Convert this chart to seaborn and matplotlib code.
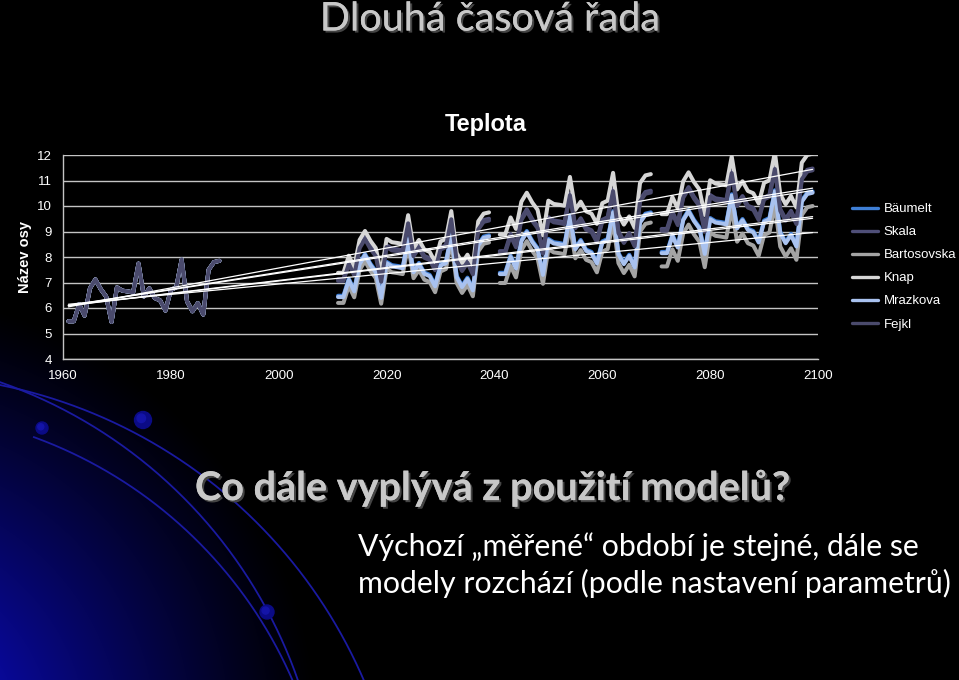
import numpy as np
import pandas as pd
import matplotlib
matplotlib.use("Agg")
import matplotlib.pyplot as plt
import seaborn as sns
from matplotlib import patheffects as pe

# ---------------- data ----------------
models = ["Bäumelt", "Skala", "Bartosovska", "Knap", "Mrazkova", "Fejkl"]
colors = ["#3f7fd6", "#4f4f78", "#a4a4a4", "#d6d6d6", "#a9c2ef", "#4a4a6c"]
period_starts = [1961, 2011, 2041, 2071]

observed = [5.48, 5.48, 6.15, 5.70, 6.77, 7.12, 6.74, 6.45, 5.45, 6.81, 6.68, 6.65, 6.61, 7.74, 6.45,
            6.77, 6.39, 6.30, 5.90, 6.71, 6.81, 7.90, 6.26, 5.87, 6.19, 5.74, 7.50, 7.80, 7.85]

baumelt_2011 = [6.48, 6.48, 7.15, 6.70, 7.77, 8.12, 7.74, 7.45, 6.45, 7.81, 7.68, 7.65, 7.61, 8.74, 7.45,
                7.77, 7.39, 7.30, 6.90, 7.71, 7.81, 8.90, 7.26, 6.87, 7.19, 6.74, 8.50, 8.80, 8.85]
baumelt_2041 = [7.38, 7.38, 8.05, 7.60, 8.67, 9.02, 8.64, 8.35, 7.35, 8.71, 8.58, 8.55, 8.51, 9.64, 8.35,
                8.67, 8.29, 8.20, 7.80, 8.61, 8.71, 9.80, 8.16, 7.77, 8.09, 7.64, 9.40, 9.70, 9.75]
baumelt_2071 = [8.20, 8.20, 8.87, 8.42, 9.49, 9.84, 9.46, 9.17, 8.17, 9.53, 9.40, 9.37, 9.33, 10.46, 9.17,
                9.49, 9.11, 9.02, 8.62, 9.43, 9.53, 10.62, 8.98, 8.59, 8.91, 8.46, 10.22, 10.52, 10.57]

skala_2011 = [7.13, 7.13, 7.80, 7.35, 8.42, 8.77, 8.39, 8.10, 7.10, 8.46, 8.33, 8.30, 8.26, 9.39, 8.10,
              8.42, 8.04, 7.95, 7.55, 8.36, 8.46, 9.55, 7.91, 7.52, 7.84, 7.39, 9.15, 9.45, 9.50]
skala_2041 = [8.23, 8.23, 8.90, 8.45, 9.52, 9.87, 9.49, 9.20, 8.20, 9.56, 9.43, 9.40, 9.36, 10.49, 9.20,
              9.52, 9.14, 9.05, 8.65, 9.46, 9.56, 10.65, 9.01, 8.62, 8.94, 8.49, 10.25, 10.55, 10.60]
skala_2071 = [9.10, 9.10, 9.77, 9.32, 10.39, 10.74, 10.36, 10.07, 9.07, 10.43, 10.30, 10.27, 10.23, 11.36, 10.07,
              10.39, 10.01, 9.92, 9.52, 10.33, 10.43, 11.52, 9.88, 9.49, 9.81, 9.36, 11.12, 11.42, 11.47]

bartosovska_2011 = [6.20, 6.20, 6.87, 6.42, 7.49, 7.84, 7.46, 7.17, 6.17, 7.53, 7.40, 7.37, 7.33, 8.46, 7.17,
                    7.49, 7.11, 7.02, 6.62, 7.43, 7.53, 8.62, 6.98, 6.59, 6.91, 6.46, 8.22, 8.52, 8.57]
bartosovska_2041 = [6.98, 6.98, 7.65, 7.20, 8.27, 8.62, 8.24, 7.95, 6.95, 8.31, 8.18, 8.15, 8.11, 9.24, 7.95,
                    8.27, 7.89, 7.80, 7.40, 8.21, 8.31, 9.40, 7.76, 7.37, 7.69, 7.24, 9.00, 9.30, 9.35]
bartosovska_2071 = [7.63, 7.63, 8.30, 7.85, 8.92, 9.27, 8.89, 8.60, 7.60, 8.96, 8.83, 8.80, 8.76, 9.89, 8.60,
                    8.92, 8.54, 8.45, 8.05, 8.86, 8.96, 10.05, 8.41, 8.02, 8.34, 7.89, 9.65, 9.95, 10.00]

knap_2011 = [7.38, 7.38, 8.05, 7.60, 8.67, 9.02, 8.64, 8.35, 7.35, 8.71, 8.58, 8.55, 8.51, 9.64, 8.35,
             8.67, 8.29, 8.20, 7.80, 8.61, 8.71, 9.80, 8.16, 7.77, 8.09, 7.64, 9.40, 9.70, 9.75]
knap_2041 = [8.88, 8.88, 9.55, 9.10, 10.17, 10.52, 10.14, 9.85, 8.85, 10.21, 10.08, 10.05, 10.01, 11.14, 9.85,
             10.17, 9.79, 9.70, 9.30, 10.11, 10.21, 11.30, 9.66, 9.27, 9.59, 9.14, 10.90, 11.20, 11.25]
knap_2071 = [9.68, 9.68, 10.35, 9.90, 10.97, 11.32, 10.94, 10.65, 9.65, 11.01, 10.88, 10.85, 10.81, 11.94, 10.65,
             10.97, 10.59, 10.50, 10.10, 10.91, 11.01, 12.10, 10.46, 10.07, 10.39, 9.94, 11.70, 12.00, 12.05]

mrazkova_2011 = [6.43, 6.43, 7.10, 6.65, 7.72, 8.07, 7.69, 7.40, 6.40, 7.76, 7.63, 7.60, 7.56, 8.69, 7.40,
                 7.72, 7.34, 7.25, 6.85, 7.66, 7.76, 8.85, 7.21, 6.82, 7.14, 6.69, 8.45, 8.75, 8.80]
mrazkova_2041 = [7.33, 7.33, 8.00, 7.55, 8.62, 8.97, 8.59, 8.30, 7.30, 8.66, 8.53, 8.50, 8.46, 9.59, 8.30,
                 8.62, 8.24, 8.15, 7.75, 8.56, 8.66, 9.75, 8.11, 7.72, 8.04, 7.59, 9.35, 9.65, 9.70]
mrazkova_2071 = [8.15, 8.15, 8.82, 8.37, 9.44, 9.79, 9.41, 9.12, 8.12, 9.48, 9.35, 9.32, 9.28, 10.41, 9.12,
                 9.44, 9.06, 8.97, 8.57, 9.38, 9.48, 10.57, 8.93, 8.54, 8.86, 8.41, 10.17, 10.47, 10.52]

fejkl_2011 = [7.06, 7.06, 7.73, 7.28, 8.35, 8.70, 8.32, 8.03, 7.03, 8.39, 8.26, 8.23, 8.19, 9.32, 8.03,
              8.35, 7.97, 7.88, 7.48, 8.29, 8.39, 9.48, 7.84, 7.45, 7.77, 7.32, 9.08, 9.38, 9.43]
fejkl_2041 = [8.16, 8.16, 8.83, 8.38, 9.45, 9.80, 9.42, 9.13, 8.13, 9.49, 9.36, 9.33, 9.29, 10.42, 9.13,
              9.45, 9.07, 8.98, 8.58, 9.39, 9.49, 10.58, 8.94, 8.55, 8.87, 8.42, 10.18, 10.48, 10.53]
fejkl_2071 = [9.03, 9.03, 9.70, 9.25, 10.32, 10.67, 10.29, 10.00, 9.00, 10.36, 10.23, 10.20, 10.16, 11.29, 10.00,
              10.32, 9.94, 9.85, 9.45, 10.26, 10.36, 11.45, 9.81, 9.42, 9.74, 9.29, 11.05, 11.35, 11.40]

series = {
    "Bäumelt": [observed, baumelt_2011, baumelt_2041, baumelt_2071],
    "Skala": [observed, skala_2011, skala_2041, skala_2071],
    "Bartosovska": [observed, bartosovska_2011, bartosovska_2041, bartosovska_2071],
    "Knap": [observed, knap_2011, knap_2041, knap_2071],
    "Mrazkova": [observed, mrazkova_2011, mrazkova_2041, mrazkova_2071],
    "Fejkl": [observed, fejkl_2011, fejkl_2041, fejkl_2071],
}

rows = []
for m in models:
    for seg, (start, vals) in enumerate(zip(period_starts, series[m])):
        for i, v in enumerate(vals):
            rows.append({"model": m, "segment": seg, "year": start + i, "value": v})
df = pd.DataFrame(rows)

# ---------------- figure ----------------
W, H = 959, 680
fig = plt.figure(figsize=(W / 100, H / 100), dpi=100, facecolor="black")

# background decoration (slide theme)
bg = fig.add_axes([0, 0, 1, 1], zorder=0)
bg.set_xlim(0, W)
bg.set_ylim(H, 0)
bg.axis("off")
xx, yy = np.meshgrid(np.arange(W), np.arange(H))
d = np.hypot(xx + 130, yy - 740)
inten = np.clip(1 - d / 450, 0, 1) ** 1.15
img = np.dstack([0.05 * inten, 0.05 * inten, 0.92 * inten])
bg.imshow(img, extent=[0, W, H, 0], aspect="auto", interpolation="bilinear")

arc_col = "#1a1aa0"
def arc(cx, cy, r, a0, a1):
    t = np.radians(np.linspace(a0, a1, 200))
    bg.plot(cx + r * np.cos(t), cy - r * np.sin(t), color=arc_col, lw=1.3)
arc(-100, 880, 505, 18, 100)
arc(-160, 840, 485, 18, 72)
arc(-120, 860, 450, 20, 70)
for (cx, cy, r) in [(42, 428, 6), (143, 420, 8.5), (267, 612, 7)]:
    bg.add_patch(plt.Circle((cx, cy), r, color="#0b0b86", zorder=3))
    bg.add_patch(plt.Circle((cx - r * 0.2, cy - r * 0.2), r * 0.5, color="#1414a8", zorder=4))

# main chart
sns.set_style("dark")
plt.rcParams["font.family"] = ["Liberation Sans", "DejaVu Sans"]
ax = fig.add_axes([63 / W, 1 - 359 / H, 755 / W, 204 / H], zorder=2)
ax.set_facecolor("black")

sns.lineplot(data=df, x="year", y="value", hue="model", hue_order=models,
             palette=colors, units="segment", estimator=None, lw=2.9,
             ax=ax, legend=True)
for m in models:
    sns.regplot(data=df[df["model"] == m], x="year", y="value", scatter=False,
                ci=None, truncate=True, ax=ax,
                line_kws=dict(color="white", lw=0.9, zorder=5))

ax.set_xlim(1960, 2100)
ax.set_ylim(4, 12)
ax.set_xticks(range(1960, 2101, 20))
ax.set_yticks(range(4, 13))
ax.grid(axis="y", color="#c4c4c4", lw=1.0)
ax.grid(axis="x", visible=False)
ax.set_axisbelow(True)
for s in ["top", "right"]:
    ax.spines[s].set_visible(False)
for s in ["left", "bottom"]:
    ax.spines[s].set_visible(True)
    ax.spines[s].set_color("#c4c4c4")
    ax.spines[s].set_linewidth(1.0)
ax.tick_params(axis="both", length=0, colors="white", labelsize=9.5)
ax.tick_params(axis="y", pad=8)
ax.tick_params(axis="x", pad=8)
ax.set_xlabel("")
ax.set_ylabel("Název osy", color="white", fontsize=10.5, fontweight="bold")
ax.yaxis.set_label_coords(-0.041, 0.5)

handles, labels = ax.get_legend_handles_labels()
ax.get_legend().remove()
for h in handles:
    h.set_linewidth(2.4)
fig.legend(handles, labels, loc="upper left", bbox_to_anchor=(852 / W, 1 - 203 / H),
           bbox_transform=fig.transFigure, frameon=False, fontsize=9.5,
           labelcolor="white", handlelength=2.0, handletextpad=0.4,
           labelspacing=0.82, borderpad=0, borderaxespad=0)

fig.text(486 / W, 1 - 125 / H, "Teplota", ha="center", va="center",
         color="white", fontsize=17, fontweight="bold", family=["Liberation Sans", "DejaVu Sans"])

# slide texts
slide_font = ["Lato", "DejaVu Sans"]
shadow = [pe.withSimplePatchShadow(offset=(1.5, -1.5), shadow_rgbFace="#444444", alpha=1), pe.Normal()]
fig.text(490 / W, 1 - 19 / H, "Dlouhá časová řada", ha="center", va="center",
         color="#c8c8c8", fontsize=28.5, family=slide_font, path_effects=shadow)
fig.text(195 / W, 1 - 488 / H, "Co dále vyplývá z použití modelů?", ha="left", va="center",
         color="#c8c8c8", fontsize=28.5, fontweight="bold", family=slide_font, path_effects=shadow)
fig.text(358 / W, 1 - 547 / H, "Výchozí „měřené“ období je stejné, dále se", ha="left", va="center",
         color="white", fontsize=21.8, family=slide_font)
fig.text(358 / W, 1 - 583 / H, "modely rozchází (podle nastavení parametrů)", ha="left", va="center",
         color="white", fontsize=21.8, family=slide_font)

fig.savefig("out.png", dpi=100, facecolor="black")
